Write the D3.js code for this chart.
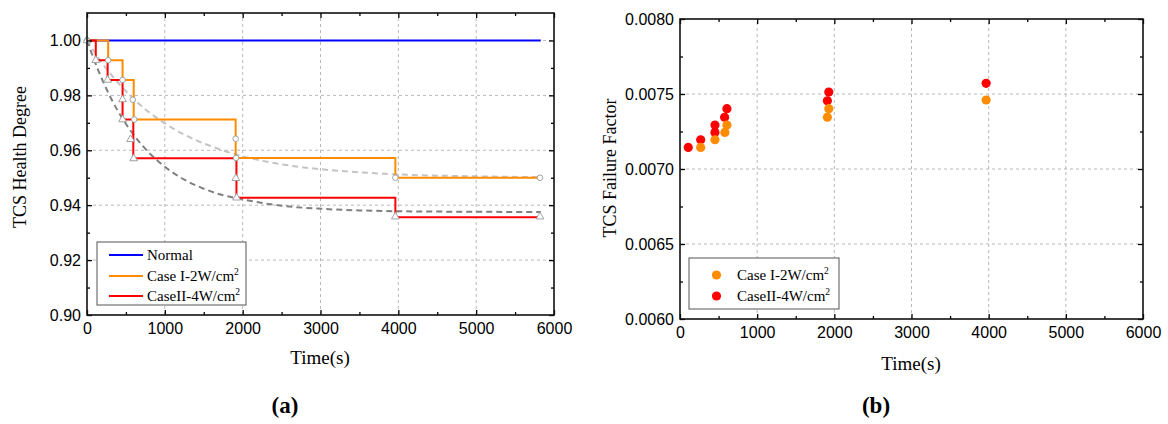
<!DOCTYPE html>
<html>
<head>
<meta charset="utf-8">
<script src="https://cdn.jsdelivr.net/npm/d3@7"></script>
<style>
  html, body { margin: 0; padding: 0; background: #fff; }
  svg { display: block; }
  .tick text { font-family: "Liberation Sans", Arial, sans-serif; font-size: 16px; fill: #000; }
  .serif { font-family: "Liberation Serif", "Times New Roman", serif; }
</style>
</head>
<body>
<svg id="chart" width="1168" height="424"></svg>
<script>
// ---------- DATA ----------
const timeTicks = [0, 1000, 2000, 3000, 4000, 5000, 6000];
const timeMinorTicks = [500, 1500, 2500, 3500, 4500, 5500];
const healthTicks = [0.90, 0.92, 0.94, 0.96, 0.98, 1.00];
const healthMinorTicks = [0.91, 0.93, 0.95, 0.97, 0.99];
const factorTicks = [0.0060, 0.0065, 0.0070, 0.0075, 0.0080];
const factorMinorTicks = [0.00625, 0.00675, 0.00725, 0.00775];

const seriesNames = ["Normal", "Case I-2W/cm", "CaseII-4W/cm"];

// (a) Normal
const normalTime = [0, 5830];
const normalHealth = [1.0, 1.0];

// (a) Case I step line (value holds until next time)
const case1StepTime = [0, 272, 457, 600, 1910, 3962, 5830];
const case1StepHealth = [1.0, 0.9928, 0.9856, 0.9712, 0.9572, 0.9500, 0.9500];
// (a) Case I markers
const case1PointTime = [0, 272, 457, 588, 606, 1910, 1916, 3962, 5820];
const case1PointHealth = [1.0, 0.9928, 0.9856, 0.9784, 0.9712, 0.9642, 0.9572, 0.9500, 0.9500];

// (a) Case II step line
const case2StepTime = [0, 113, 265, 457, 595, 1920, 3962, 5830];
const case2StepHealth = [1.0, 0.9928, 0.9856, 0.9712, 0.9571, 0.9427, 0.9356, 0.9356];
// (a) Case II markers
const case2PointTime = [0, 113, 265, 457, 457, 560, 600, 1912, 1922, 3962, 5820];
const case2PointHealth = [1.0, 0.9928, 0.9856, 0.9785, 0.9712, 0.9640, 0.9570, 0.9498, 0.9427, 0.9358, 0.9358];

// (a) fitted dashed curves
const fit1Time = [0, 150, 300, 450, 600, 800, 1000, 1250, 1500, 1750, 2000, 2500, 3000, 3500, 4000, 5000, 5830];
const fit1Health = [1.000, 0.9935, 0.9879, 0.9830, 0.9787, 0.9738, 0.9698, 0.9657, 0.9625, 0.9599, 0.9578, 0.9549, 0.9531, 0.9520, 0.9512, 0.9505, 0.9502];
const fit2Time = [0, 150, 300, 450, 600, 800, 1000, 1250, 1500, 1750, 2000, 2500, 3000, 3500, 4000, 5000, 5830];
const fit2Health = [1.000, 0.9887, 0.9794, 0.9718, 0.9656, 0.9590, 0.9540, 0.9493, 0.9460, 0.9436, 0.9421, 0.9398, 0.9387, 0.9381, 0.9378, 0.9376, 0.9375];

// (b) failure factor scatter
const case1FactorTime = [268, 453, 582, 608, 1910, 1928, 3967];
const case1Factor = [0.007144, 0.007195, 0.007244, 0.007293, 0.007345, 0.007402, 0.007460];
const case2FactorTime = [107, 268, 453, 453, 578, 608, 1910, 1928, 3967];
const case2Factor = [0.007144, 0.007195, 0.007244, 0.007293, 0.007345, 0.007402, 0.007455, 0.007513, 0.007571];

// ---------- STYLE ----------
const BLUE = "#0000ff", ORANGE = "#ff8c00", RED = "#ff0000";
const LIGHTGRAY = "#c4c4c4", DARKGRAY = "#808080";

const svg = d3.select("#chart");

function zip(xs, ys) { return xs.map((x, i) => [x, ys[i]]); }

function frame(g, x, y, xMajor, yMajor) {
  const [x0, x1] = x.range();
  const [y0, y1] = y.range();
  const grid = g.append("g").attr("stroke", "#b8b8b8").attr("stroke-width", 1).attr("stroke-dasharray", "3,3");
  xMajor.filter(v => x(v) > x0 + 1 && x(v) < x1 - 1).forEach(v => {
    grid.append("line").attr("x1", x(v)).attr("x2", x(v)).attr("y1", y0).attr("y2", y1);
  });
  yMajor.filter(v => y(v) < y0 - 1 && y(v) > y1 + 1).forEach(v => {
    grid.append("line").attr("y1", y(v)).attr("y2", y(v)).attr("x1", x0).attr("x2", x1);
  });
}

function axes(g, x, y, xMajor, xMinor, yMajor, yMinor, yFmt) {
  const [x0, x1] = x.range();
  const [y0, y1] = y.range();
  const style = sel => { sel.select(".domain").remove(); sel.selectAll(".tick line").attr("stroke", "#000").attr("stroke-width", 1.3); };
  g.append("g").attr("transform", `translate(0,${y0})`)
    .call(d3.axisBottom(x).tickValues(xMajor).tickSize(-5).tickPadding(8).tickFormat(d3.format("d"))).call(style);
  g.append("g").attr("transform", `translate(0,${y0})`)
    .call(d3.axisBottom(x).tickValues(xMinor).tickSize(-3).tickFormat("")).call(style);
  g.append("g").attr("transform", `translate(0,${y1})`)
    .call(d3.axisTop(x).tickValues(xMajor).tickSize(-5).tickFormat("")).call(style);
  g.append("g").attr("transform", `translate(0,${y1})`)
    .call(d3.axisTop(x).tickValues(xMinor).tickSize(-3).tickFormat("")).call(style);
  g.append("g").attr("transform", `translate(${x0},0)`)
    .call(d3.axisLeft(y).tickValues(yMajor).tickSize(-5).tickPadding(6).tickFormat(yFmt)).call(style);
  g.append("g").attr("transform", `translate(${x0},0)`)
    .call(d3.axisLeft(y).tickValues(yMinor).tickSize(-3).tickFormat("")).call(style);
  g.append("g").attr("transform", `translate(${x1},0)`)
    .call(d3.axisRight(y).tickValues(yMajor).tickSize(-5).tickFormat("")).call(style);
  g.append("g").attr("transform", `translate(${x1},0)`)
    .call(d3.axisRight(y).tickValues(yMinor).tickSize(-3).tickFormat("")).call(style);
  g.append("rect").attr("x", x0).attr("y", y1).attr("width", x1 - x0).attr("height", y0 - y1)
    .attr("fill", "none").attr("stroke", "#111").attr("stroke-width", 1.6);
}

function legendLabel(sel, name) {
  sel.append("tspan").text(name);
  sel.append("tspan").text("2").attr("font-size", "9.5px").attr("dy", "-6");
}

// ---------- PANEL (a) ----------
const xa = d3.scaleLinear().domain([0, 6000]).range([87, 554]);
const ya = d3.scaleLinear().domain([0.90, 1.01]).range([315, 13]);
const ga = svg.append("g");
frame(ga, xa, ya, timeTicks, healthTicks);

const lineA = d3.line().x(d => xa(d[0])).y(d => ya(d[1]));
const smoothA = d3.line().x(d => xa(d[0])).y(d => ya(d[1])).curve(d3.curveMonotoneX);
const stepA = d3.line().x(d => xa(d[0])).y(d => ya(d[1])).curve(d3.curveStepAfter);

ga.append("path").attr("d", smoothA(zip(fit1Time, fit1Health)))
  .attr("fill", "none").attr("stroke", LIGHTGRAY).attr("stroke-width", 2).attr("stroke-dasharray", "6,4");
ga.append("path").attr("d", smoothA(zip(fit2Time, fit2Health)))
  .attr("fill", "none").attr("stroke", DARKGRAY).attr("stroke-width", 2).attr("stroke-dasharray", "6,4");

ga.append("path").attr("d", lineA(zip(normalTime, normalHealth)))
  .attr("fill", "none").attr("stroke", BLUE).attr("stroke-width", 2);
ga.append("path").attr("d", stepA(zip(case1StepTime, case1StepHealth)))
  .attr("fill", "none").attr("stroke", ORANGE).attr("stroke-width", 2);
ga.append("path").attr("d", stepA(zip(case2StepTime, case2StepHealth)))
  .attr("fill", "none").attr("stroke", RED).attr("stroke-width", 2);

ga.append("g").selectAll("circle").data(zip(case1PointTime, case1PointHealth)).join("circle")
  .attr("cx", d => xa(d[0])).attr("cy", d => ya(d[1])).attr("r", 2.8)
  .attr("fill", "#fff").attr("stroke", "#999").attr("stroke-width", 0.9);
const tri = d3.symbol().type(d3.symbolTriangle).size(26);
ga.append("g").selectAll("path").data(zip(case2PointTime, case2PointHealth)).join("path")
  .attr("transform", d => `translate(${xa(d[0])},${ya(d[1])})`).attr("d", tri)
  .attr("fill", "#fff").attr("stroke", "#999").attr("stroke-width", 0.9);

axes(ga, xa, ya, timeTicks, timeMinorTicks, healthTicks, healthMinorTicks, d3.format(".2f"));

// legend (a)
const la = ga.append("g");
la.append("rect").attr("x", 97).attr("y", 242).attr("width", 149).attr("height", 63)
  .attr("fill", "#fff").attr("stroke", "#555").attr("stroke-width", 1);
const legColors = [BLUE, ORANGE, RED];
const legY = [255, 276, 296];
seriesNames.forEach((n, i) => {
  la.append("line").attr("x1", 109).attr("x2", 143).attr("y1", legY[i]).attr("y2", legY[i])
    .attr("stroke", legColors[i]).attr("stroke-width", 2);
  const t = la.append("text").attr("class", "serif").attr("x", 147).attr("y", legY[i] + 5)
    .attr("font-size", "15px").attr("fill", "#000");
  if (i === 0) t.text(n); else legendLabel(t, n);
});

svg.append("text").attr("class", "serif").attr("font-size", "18px")
  .attr("transform", "translate(26,157) rotate(-90)").attr("text-anchor", "middle").text("TCS Health Degree");
svg.append("text").attr("class", "serif").attr("font-size", "19px")
  .attr("x", 320).attr("y", 364).attr("text-anchor", "middle").text("Time(s)");
svg.append("text").attr("class", "serif").attr("font-size", "23px").attr("font-weight", "bold")
  .attr("x", 285).attr("y", 413).attr("text-anchor", "middle").text("(a)");

// ---------- PANEL (b) ----------
const xb = d3.scaleLinear().domain([0, 6000]).range([680, 1143]);
const yb = d3.scaleLinear().domain([0.0060, 0.0080]).range([319, 19]);
const gb = svg.append("g");
frame(gb, xb, yb, timeTicks, factorTicks);

gb.append("g").selectAll("circle").data(zip(case2FactorTime, case2Factor)).join("circle")
  .attr("cx", d => xb(d[0])).attr("cy", d => yb(d[1])).attr("r", 4.6).attr("fill", RED);
gb.append("g").selectAll("circle").data(zip(case1FactorTime, case1Factor)).join("circle")
  .attr("cx", d => xb(d[0])).attr("cy", d => yb(d[1])).attr("r", 4.6).attr("fill", ORANGE);

axes(gb, xb, yb, timeTicks, timeMinorTicks, factorTicks, factorMinorTicks, d3.format(".4f"));

const lb = gb.append("g");
lb.append("rect").attr("x", 689).attr("y", 258).attr("width", 150).attr("height", 51)
  .attr("fill", "#fff").attr("stroke", "#555").attr("stroke-width", 1);
const legYb = [275, 296];
[ORANGE, RED].forEach((c, i) => {
  lb.append("circle").attr("cx", 716.5).attr("cy", legYb[i]).attr("r", 4.6).attr("fill", c);
  const t = lb.append("text").attr("class", "serif").attr("x", 737).attr("y", legYb[i] + 5)
    .attr("font-size", "15px").attr("fill", "#000");
  legendLabel(t, seriesNames[i + 1]);
});

svg.append("text").attr("class", "serif").attr("font-size", "18px")
  .attr("transform", "translate(616,168) rotate(-90)").attr("text-anchor", "middle").text("TCS Failure Factor");
svg.append("text").attr("class", "serif").attr("font-size", "19px")
  .attr("x", 911).attr("y", 370).attr("text-anchor", "middle").text("Time(s)");
svg.append("text").attr("class", "serif").attr("font-size", "23px").attr("font-weight", "bold")
  .attr("x", 876).attr("y", 413).attr("text-anchor", "middle").text("(b)");
</script>
</body>
</html>
